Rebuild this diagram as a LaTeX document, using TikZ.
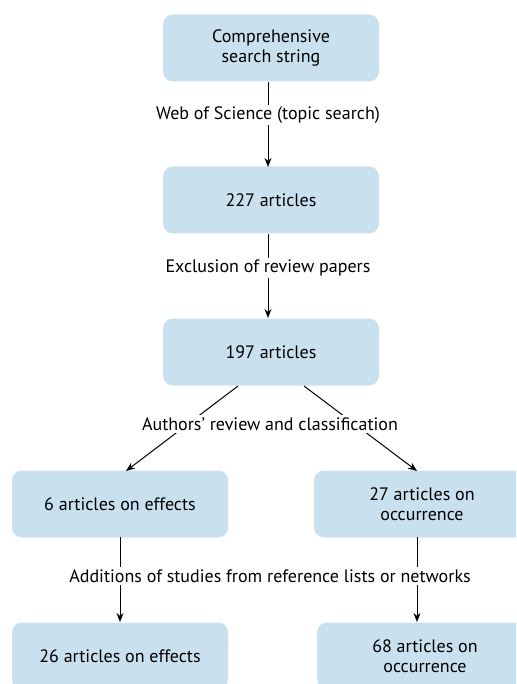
\documentclass[tikz,border=0pt]{standalone}
\usepackage{fontspec}
\setmainfont{PT Sans}
\usetikzlibrary{arrows.meta}
\definecolor{boxblue}{RGB}{201,224,238}
\tikzset{
  box/.style={fill=boxblue, rounded corners=10pt, minimum width=216pt, minimum height=67pt, align=center, font=\fontsize{18}{20}\selectfont, inner sep=0pt},
  lbl/.style={fill=white, font=\fontsize{18}{20}\selectfont, inner sep=2pt},
  arr/.style={-{Stealth[length=9pt,width=7pt]}, line width=1pt},
}
\begin{document}
\begin{tikzpicture}[x=1pt,y=-1pt]
\useasboundingbox (0,0) rectangle (516,684);
\clip (0,0) rectangle (516,684);
\node[box] (a) at (271,48) {Comprehensive\\search string};
\node[box] (b) at (271,200) {227 articles};
\node[box] (c) at (271,352) {197 articles};
\node[box] (d) at (120,504) {6 articles on effects};
\node[box] (e) at (422,504) {27 articles on\\occurrence};
\node[box] (f) at (120,656) {26 articles on effects};
\node[box] (g) at (425,656) {68 articles on\\occurrence};
\coordinate (a1) at (268,82);
\coordinate (b0) at (268,167);
\coordinate (b1) at (268,234);
\coordinate (c0) at (268,318);
\coordinate (c1) at (238,386);
\coordinate (c2) at (304,386);
\coordinate (d0) at (126,471);
\coordinate (e0) at (417,471);
\coordinate (d1) at (120,537);
\coordinate (f0) at (120,622);
\coordinate (e1) at (417,537);
\coordinate (g0) at (417,622);
\draw[arr] (a1) -- (b0);
\draw[arr] (b1) -- (c0);
\draw[arr] (c1) -- (d0);
\draw[arr] (c2) -- (e0);
\draw[arr] (d1) -- (f0);
\draw[arr] (e1) -- (g0);
\node[lbl] (l1) at (268,115) {Web of Science (topic search)};
\node[lbl] (l2) at (268,268) {Exclusion of review papers};
\node[lbl] (l3) at (270,424) {Authors’ review and classification};
\node[lbl] (l4) at (270,576) {Additions of studies from reference lists or networks};
\end{tikzpicture}
\end{document}
